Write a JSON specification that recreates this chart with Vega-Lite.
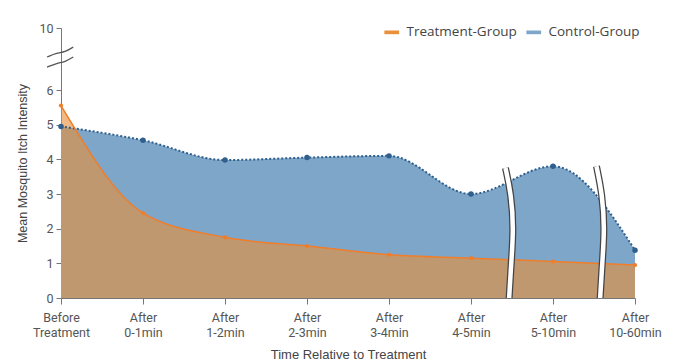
{
  "$schema": "https://vega.github.io/schema/vega-lite/v6.json",
  "width": 574,
  "height": 270,
  "autosize": "none",
  "padding": {"left": 61, "top": 28, "right": 65, "bottom": 65},
  "background": "white",
  "config": {
    "view": {"stroke": null},
    "font": "Roboto",
    "axis": {"labelFont": "Roboto", "titleFont": "Liberation Sans", "labelColor": "#555", "titleColor": "#444", "domainColor": "#777", "tickColor": "#777", "grid": false}
  },
  "datasets": {
    "main": [
      {"cat": "Before Treatment", "group": "Treatment-Group", "value": 5.55},
      {"cat": "After 0-1min", "group": "Treatment-Group", "value": 2.45},
      {"cat": "After 1-2min", "group": "Treatment-Group", "value": 1.75},
      {"cat": "After 2-3min", "group": "Treatment-Group", "value": 1.5},
      {"cat": "After 3-4min", "group": "Treatment-Group", "value": 1.25},
      {"cat": "After 4-5min", "group": "Treatment-Group", "value": 1.15},
      {"cat": "After 5-10min", "group": "Treatment-Group", "value": 1.05},
      {"cat": "After 10-60min", "group": "Treatment-Group", "value": 0.95},
      {"cat": "Before Treatment", "group": "Control-Group", "value": 4.95},
      {"cat": "After 0-1min", "group": "Control-Group", "value": 4.55},
      {"cat": "After 1-2min", "group": "Control-Group", "value": 3.98},
      {"cat": "After 2-3min", "group": "Control-Group", "value": 4.05},
      {"cat": "After 3-4min", "group": "Control-Group", "value": 4.1},
      {"cat": "After 4-5min", "group": "Control-Group", "value": 3.0},
      {"cat": "After 5-10min", "group": "Control-Group", "value": 3.8},
      {"cat": "After 10-60min", "group": "Control-Group", "value": 1.38}
    ],
    "breaks": [
      {"b": "x1", "i": 0, "bx": 5.46, "by": -0.2},
      {"b": "x1", "i": 1, "bx": 5.49, "by": 1.0},
      {"b": "x1", "i": 2, "bx": 5.52, "by": 2.0},
      {"b": "x1", "i": 3, "bx": 5.49, "by": 3.0},
      {"b": "x1", "i": 4, "bx": 5.42, "by": 3.75},
      {"b": "x2", "i": 0, "bx": 6.57, "by": -0.2},
      {"b": "x2", "i": 1, "bx": 6.6, "by": 1.0},
      {"b": "x2", "i": 2, "bx": 6.63, "by": 2.0},
      {"b": "x2", "i": 3, "bx": 6.6, "by": 3.0},
      {"b": "x2", "i": 4, "bx": 6.53, "by": 3.8}
    ],
    "ybreaks": [
      {"b": "y1", "i": 0, "bx": -0.17, "by": 8.13},
      {"b": "y1", "i": 1, "bx": -0.05, "by": 8.39},
      {"b": "y1", "i": 2, "bx": 0.05, "by": 8.45},
      {"b": "y1", "i": 3, "bx": 0.15, "by": 8.77},
      {"b": "y2", "i": 0, "bx": -0.17, "by": 7.48},
      {"b": "y2", "i": 1, "bx": -0.05, "by": 7.74},
      {"b": "y2", "i": 2, "bx": 0.05, "by": 7.81},
      {"b": "y2", "i": 3, "bx": 0.15, "by": 8.13}
    ]
  },
  "resolve": {"scale": {"x": "independent"}, "axis": {"x": "independent", "y": "independent"}},
  "layer": [
    {
      "data": {"name": "main"},
      "encoding": {
        "x": {
          "field": "cat", "type": "ordinal", "sort": null,
          "scale": {"type": "point", "padding": 0},
          "axis": {"labelAngle": 0, "labelExpr": "split(datum.label, ' ')", "labelFontSize": 12.5, "labelPadding": 7, "labelLineHeight": 15, "tickSize": 6, "title": "Time Relative to Treatment", "titleFontSize": 13, "titleFontWeight": "normal", "titlePadding": 10}
        },
        "y": {
          "field": "value", "type": "quantitative",
          "scale": {"domain": [0, 6, 10], "range": [270, 62, 0], "nice": false, "zero": false},
          "axis": {"values": [0, 1, 2, 3, 4, 5, 6, 10], "labelOverlap": false, "labelFontSize": 12.5, "tickSize": 5, "labelPadding": 3, "title": "Mean Mosquito Itch Intensity", "titleFontSize": 12.5, "titleFontWeight": "normal", "titlePadding": 9}
        }
      },
      "layer": [
        {
          "transform": [{"filter": "datum.group == 'Control-Group'"}],
          "mark": {"type": "area", "interpolate": "monotone", "fillOpacity": 1},
          "encoding": {
            "fill": {"field": "group", "type": "nominal",
              "scale": {"domain": ["Treatment-Group", "Control-Group"], "range": ["#e8903a", "#7ea6c9"]},
              "legend": {"orient": "none", "legendX": 322, "legendY": -3, "direction": "horizontal", "title": null, "labelFontSize": 13.5, "labelColor": "#444", "labelFont": "Open Sans", "symbolType": "M-1.6,-0.35L1.6,-0.35L1.6,0.45L-1.6,0.45Z", "symbolSize": 85, "symbolStrokeWidth": 0, "columnPadding": 8, "symbolOffset": 2, "labelOffset": 8}
            }
          }
        },
        {
          "transform": [{"filter": "datum.group == 'Treatment-Group'"}],
          "mark": {"type": "area", "interpolate": "monotone", "fillOpacity": 0.62},
          "encoding": {"fill": {"field": "group", "type": "nominal"}}
        },
        {
          "transform": [{"filter": "datum.group == 'Control-Group'"}],
          "mark": {"type": "line", "interpolate": "monotone", "stroke": "#2f5f8c", "strokeWidth": 2, "strokeDash": [2, 2]},
          "encoding": {}
        },
        {
          "transform": [{"filter": "datum.group == 'Treatment-Group'"}],
          "mark": {"type": "line", "interpolate": "monotone", "stroke": "#f07d2a", "strokeWidth": 1.5},
          "encoding": {}
        },
        {
          "transform": [{"filter": "datum.group == 'Control-Group'"}],
          "mark": {"type": "point", "filled": true, "size": 30, "color": "#2f5f8c", "opacity": 1},
          "encoding": {}
        },
        {
          "transform": [{"filter": "datum.group == 'Treatment-Group'"}],
          "mark": {"type": "point", "filled": true, "size": 18, "color": "#f07d2a", "opacity": 1},
          "encoding": {}
        }
      ]
    },
    {
      "data": {"name": "breaks"},
      "encoding": {
        "x": {"field": "bx", "type": "quantitative", "scale": {"domain": [0, 7], "nice": false, "zero": false}, "axis": null},
        "y": {"field": "by", "type": "quantitative", "axis": null},
        "detail": {"field": "b"},
        "order": {"field": "i"}
      },
      "layer": [
        {"mark": {"type": "line", "interpolate": "basis", "stroke": "#444", "strokeWidth": 7, "clip": true}},
        {"mark": {"type": "line", "interpolate": "basis", "stroke": "white", "strokeWidth": 4.5, "clip": true}}
      ]
    },
    {
      "data": {"name": "ybreaks"},
      "encoding": {
        "x": {"field": "bx", "type": "quantitative", "scale": {"domain": [0, 7], "nice": false, "zero": false}, "axis": null},
        "y": {"field": "by", "type": "quantitative", "axis": null},
        "detail": {"field": "b"},
        "order": {"field": "i"}
      },
      "mark": {"type": "line", "interpolate": "basis", "stroke": "#555", "strokeWidth": 1.3}
    }
  ]
}
